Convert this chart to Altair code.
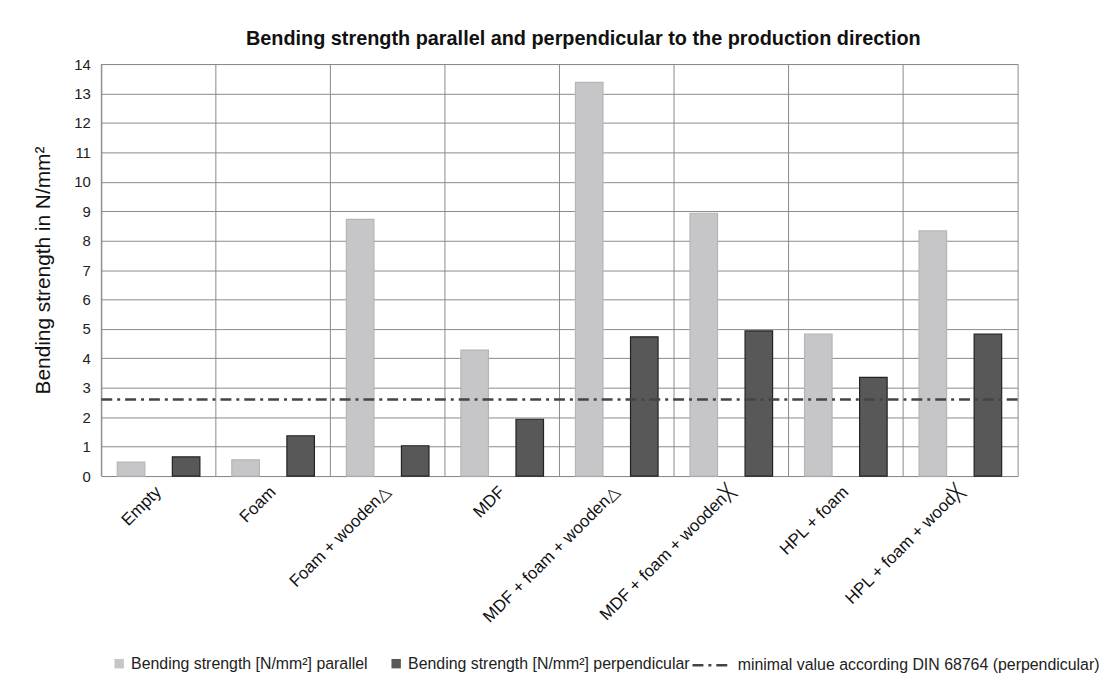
import altair as alt
import pandas as pd

categories = ["Empty", "Foam", "Foam + wooden△", "MDF", "MDF + foam + wooden△",
              "MDF + foam + wooden╳", "HPL + foam", "HPL + foam + wood╳"]
parallel = [0.47, 0.55, 8.72, 4.28, 13.38, 8.93, 4.82, 8.33]
perpendicular = [0.65, 1.37, 1.03, 1.93, 4.73, 4.93, 3.35, 4.82]
series_names = ["Bending strength  [N/mm²] parallel", "Bending strength [N/mm²] perpendicular"]
din_label = ["minimal value according DIN 68764 (perpendicular)"]
din_value = [2.6]
y_ticks = list(range(0, 15))

FONT = "Liberation Sans"

rows = []
for c, p, q in zip(categories, parallel, perpendicular):
    rows.append({"cat": c, "series": series_names[0], "value": p})
    rows.append({"cat": c, "series": series_names[1], "value": q})
df = pd.DataFrame(rows)
cat_df = pd.DataFrame({"cat": categories})
din_df = pd.DataFrame({"label": din_label, "value": din_value})

x_scale = alt.Scale(domain=categories, paddingInner=0, paddingOuter=0)
y_scale = alt.Scale(domain=[0, 14], nice=False)


def y_axis():
    return alt.Axis(title="Bending strength in N/mm²", values=y_ticks, grid=True,
                    gridColor="#8a8a8a", gridWidth=1, ticks=False, domain=False,
                    labelOverlap=False,
                    labelFontSize=15, labelColor="#222", labelFont=FONT, labelPadding=11,
                    titleFontSize=21, titleFontWeight="normal", titleColor="#111",
                    titleFont=FONT, titlePadding=21)


bars = alt.Chart(df).mark_bar(strokeWidth=1.2).encode(
    x=alt.X("cat:N", sort=categories, scale=x_scale,
            axis=alt.Axis(title=None, labelAngle=315, labelAlign="right", labelBaseline="middle",
                          labelPadding=13, labelFontSize=17, labelColor="#111", labelFont=FONT,
                          ticks=False, domain=False, grid=False, labelLimit=400)),
    xOffset=alt.XOffset("series:N", sort=series_names,
                        scale=alt.Scale(domain=series_names, paddingInner=0.5, paddingOuter=0.29)),
    y=alt.Y("value:Q", scale=y_scale, axis=y_axis()),
    color=alt.Color("series:N", sort=series_names,
                    scale=alt.Scale(domain=series_names, range=["#c6c6c9", "#585858"]),
                    legend=alt.Legend(title=None, orient="none", legendX=10, legendY=596,
                                      direction="horizontal", symbolType="square", symbolSize=90,
                                      labelFontSize=16, labelFont=FONT, labelColor="#222",
                                      columnPadding=16, symbolStrokeWidth=0, labelLimit=400)),
    stroke=alt.Stroke("series:N", sort=series_names,
                      scale=alt.Scale(domain=series_names, range=["#b5b5b8", "#222222"]),
                      legend=None),
)

vgrid = alt.Chart(cat_df).mark_rule(color="#8a8a8a", strokeWidth=1).encode(
    x=alt.X("cat:N", sort=categories, scale=x_scale, bandPosition=0),
)

din = alt.Chart(din_df).mark_rule(color="#444444", strokeWidth=2.5).encode(
    y=alt.Y("value:Q", scale=y_scale, axis=y_axis()),
    strokeDash=alt.StrokeDash("label:N",
                              scale=alt.Scale(domain=din_label, range=[[11, 5, 3, 5]]),
                              legend=alt.Legend(title=None, orient="none", legendX=594, legendY=584,
                                                symbolType="stroke", symbolSize=1600,
                                                symbolStrokeWidth=2.5, symbolStrokeColor="#444",
                                                labelFontSize=16, labelFont=FONT, labelColor="#222",
                                                labelLimit=600)),
)

chart = alt.layer(vgrid, bars, din).properties(
    width=923, height=415,
    padding={"left": 24, "top": 19, "right": 5, "bottom": 5},
    background="white",
    title=alt.TitleParams("Bending strength parallel and perpendicular to the production direction",
                          fontSize=20, fontWeight="bold", font=FONT, color="#111",
                          anchor="middle", offset=8, dx=24),
).configure_view(stroke="#8a8a8a", strokeWidth=1)

chart.save("out.html", embed_options={"renderer": "svg", "actions": False})
